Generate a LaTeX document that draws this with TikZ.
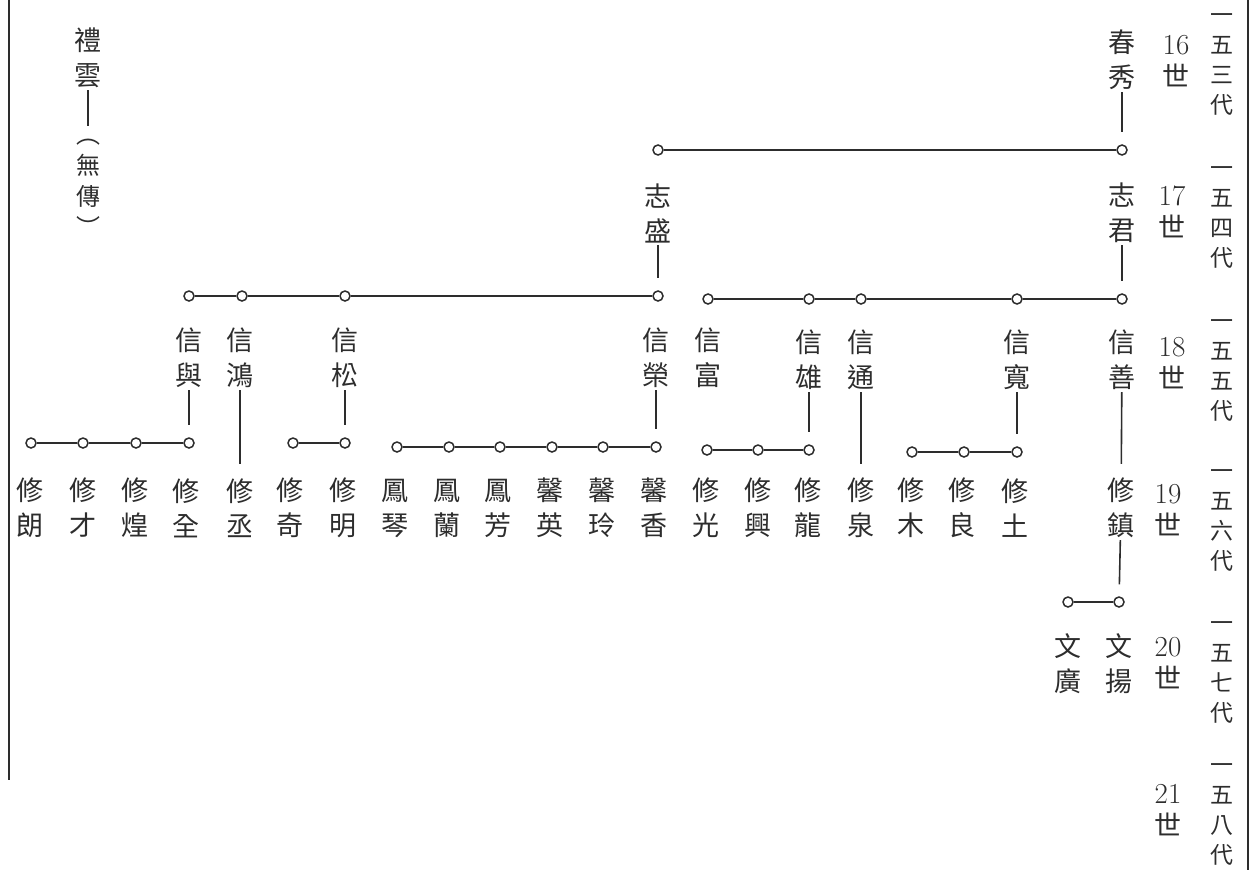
\documentclass[tikz,border=0pt]{standalone}
\usepackage{fontspec}
\usetikzlibrary{positioning}
\newfontfamily\cjk{Noto Sans CJK TC}
\definecolor{ink}{RGB}{45,45,45}

\begin{document}
\begin{tikzpicture}[x=1pt, y=-1pt,
  person/.style={font=\cjk\fontsize{27}{35}\selectfont, align=center, inner sep=2pt, text=ink},
  small/.style={font=\cjk\fontsize{24}{31}\selectfont, align=center, inner sep=1pt, text=ink},
  knot/.style={draw=ink, circle, fill=white, line width=1.5pt, inner sep=0pt, minimum size=10pt},
  gen/.style={font=\fontsize{29}{32}\selectfont, align=center, inner sep=0pt, text=ink},
  dai/.style={font=\cjk\fontsize{23}{30}\selectfont, align=center, inner sep=0pt, text=ink},
  stem/.style={draw=ink, line width=1.6pt, shorten >=12pt},
  bar/.style={draw=ink, line width=1.6pt}
]
  \useasboundingbox (0,0) rectangle (1257,870);
  % page frame
  \draw[ink, line width=2.5pt] (9,0) -- (9,780);
  \draw[ink, line width=2.5pt] (1248,0) -- (1248,870);

  % 禮雲
  \node[person] (liyun) at (88,58) {禮\\雲};
  \node[small] (wuchuan) at (88,188) {︵\\無\\傳\\︶};

  % 16 世
  \node[person] (chunxiu) at (1122,60) {春\\秀};

  % 17 世
  \node[knot] (zhisheng-o) at (658,150) {};
  \node[knot] (zhijun-o) at (1122,150) {};
  \node[person] (zhisheng) at (658,213) {志\\盛};
  \node[person] (zhijun) at (1122,213) {志\\君};

  % 18 世
  \node[knot] (xinxing-o) at (189,296) {};
  \node[knot] (xinhong-o) at (242,296) {};
  \node[knot] (xinsong-o) at (345,296) {};
  \node[knot] (xinrong-o) at (658,296) {};
  \node[knot] (xinfu-o) at (708,299) {};
  \node[knot] (xinxiong-o) at (809,299) {};
  \node[knot] (xintong-o) at (861,299) {};
  \node[knot] (xinkuan-o) at (1017,299) {};
  \node[knot] (xinshan-o) at (1122,299) {};
  \node[person] (xinxing) at (189,358) {信\\與};
  \node[person] (xinhong) at (240,358) {信\\鴻};
  \node[person] (xinsong) at (345,358) {信\\松};
  \node[person] (xinrong) at (656,358) {信\\榮};
  \node[person] (xinfu) at (708,358) {信\\富};
  \node[person] (xinxiong) at (809,360) {信\\雄};
  \node[person] (xintong) at (861,360) {信\\通};
  \node[person] (xinkuan) at (1017,360) {信\\寬};
  \node[person] (xinshan) at (1122,360) {信\\善};

  % 19 世
  \node[knot] (xiulang-o) at (31,443) {};
  \node[knot] (xiucai-o) at (83,443) {};
  \node[knot] (xiuhuang-o) at (136,443) {};
  \node[knot] (xiuquan-o) at (189,443) {};
  \node[knot] (xiuqi-o) at (293,443) {};
  \node[knot] (xiuming-o) at (345,443) {};
  \node[knot] (fengqin-o) at (397,447) {};
  \node[knot] (fenglan-o) at (449,447) {};
  \node[knot] (fengfang-o) at (500,447) {};
  \node[knot] (xinying-o) at (552,447) {};
  \node[knot] (xinling-o) at (603,447) {};
  \node[knot] (xinxiang-o) at (656,447) {};
  \node[knot] (xiuguang-o) at (707,450) {};
  \node[knot] (xiuxing-o) at (758,450) {};
  \node[knot] (xiulong-o) at (809,450) {};
  \node[knot] (xiumu-o) at (912,452) {};
  \node[knot] (xiuliang-o) at (964,452) {};
  \node[knot] (xiutu-o) at (1017,452) {};
  \node[person] (xiulang) at (30,508) {修\\朗};
  \node[person] (xiucai) at (83,508) {修\\才};
  \node[person] (xiuhuang) at (135,508) {修\\煌};
  \node[person] (xiuquan) at (186,508) {修\\全};
  \node[person] (xiucheng) at (240,508) {修\\丞};
  \node[person] (xiuqi) at (290,508) {修\\奇};
  \node[person] (xiuming) at (343,508) {修\\明};
  \node[person] (fengqin) at (395,508) {鳳\\琴};
  \node[person] (fenglan) at (447,508) {鳳\\蘭};
  \node[person] (fengfang) at (498,508) {鳳\\芳};
  \node[person] (xinying) at (550,508) {馨\\英};
  \node[person] (xinling) at (602,508) {馨\\玲};
  \node[person] (xinxiang) at (654,508) {馨\\香};
  \node[person] (xiuguang) at (706,508) {修\\光};
  \node[person] (xiuxing) at (758,508) {修\\興};
  \node[person] (xiulong) at (808,508) {修\\龍};
  \node[person] (xiuquanB) at (861,508) {修\\泉};
  \node[person] (xiumu) at (911,508) {修\\木};
  \node[person] (xiuliang) at (962,508) {修\\良};
  \node[person] (xiutu) at (1015,508) {修\\土};
  \node[person] (xiuzhen) at (1121,508) {修\\鎮};

  % 20 世
  \node[knot] (wenguang-o) at (1068,602) {};
  \node[knot] (wenyang-o) at (1119,602) {};
  \node[person] (wenguang) at (1068,664) {文\\廣};
  \node[person] (wenyang) at (1119,664) {文\\揚};

  % generation column
  \node[gen] (g16) at (1176,61) {16\\{\cjk\fontsize{27}{32}\selectfont 世}};
  \node[gen] (g17) at (1172,212) {17\\{\cjk\fontsize{27}{32}\selectfont 世}};
  \node[gen] (g18) at (1172,363) {18\\{\cjk\fontsize{27}{32}\selectfont 世}};
  \node[gen] (g19) at (1168,510) {19\\{\cjk\fontsize{27}{32}\selectfont 世}};
  \node[gen] (g20) at (1168,663) {20\\{\cjk\fontsize{27}{32}\selectfont 世}};
  \node[gen] (g21) at (1168,810) {21\\{\cjk\fontsize{27}{32}\selectfont 世}};
  \node[dai] (d153) at (1222,64) {一\\五\\三\\代};
  \node[dai] (d154) at (1222,217) {一\\五\\四\\代};
  \node[dai] (d155) at (1222,370) {一\\五\\五\\代};
  \node[dai] (d156) at (1222,520) {一\\五\\六\\代};
  \node[dai] (d157) at (1222,672) {一\\五\\七\\代};
  \node[dai] (d158) at (1222,814) {一\\五\\八\\代};

  \draw[stem] (liyun) -- (wuchuan);
  \draw[stem] (chunxiu) -- (zhijun-o);
  \draw[bar] (zhisheng-o) -- (zhijun-o);
  \draw[stem] (zhisheng) -- (xinrong-o);
  \draw[bar] (xinxing-o) -- (xinhong-o) -- (xinsong-o) -- (xinrong-o);
  \draw[stem] (zhijun) -- (xinshan-o);
  \draw[bar] (xinfu-o) -- (xinxiong-o) -- (xintong-o) -- (xinkuan-o) -- (xinshan-o);
  \draw[stem] (xinxing) -- (xiuquan-o);
  \draw[bar] (xiulang-o) -- (xiucai-o) -- (xiuhuang-o) -- (xiuquan-o);
  \draw[stem] (xinhong) -- (xiucheng);
  \draw[stem] (xinsong) -- (xiuming-o);
  \draw[bar] (xiuqi-o) -- (xiuming-o);
  \draw[stem] (xinrong) -- (xinxiang-o);
  \draw[bar] (fengqin-o) -- (fenglan-o) -- (fengfang-o) -- (xinying-o) -- (xinling-o) -- (xinxiang-o);
  \draw[stem] (xinxiong) -- (xiulong-o);
  \draw[bar] (xiuguang-o) -- (xiuxing-o) -- (xiulong-o);
  \draw[stem] (xintong) -- (xiuquanB);
  \draw[stem] (xinkuan) -- (xiutu-o);
  \draw[bar] (xiumu-o) -- (xiuliang-o) -- (xiutu-o);
  \draw[stem] (xinshan) -- (xiuzhen);
  \draw[stem] (xiuzhen) -- (wenyang-o);
  \draw[bar] (wenguang-o) -- (wenyang-o);
\end{tikzpicture}
\end{document}
